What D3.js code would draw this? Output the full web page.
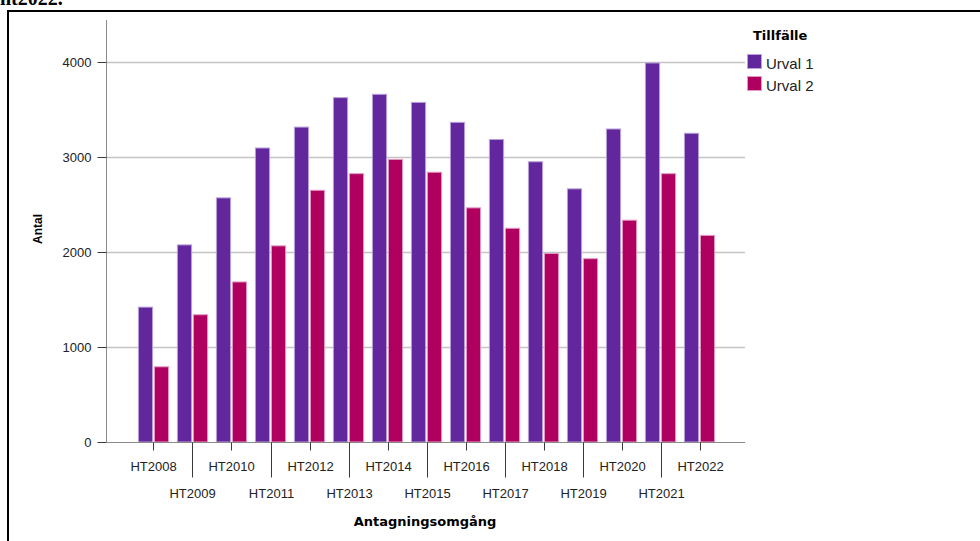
<!DOCTYPE html>
<html>
<head>
<meta charset="utf-8">
<script src="https://cdn.jsdelivr.net/npm/d3@7"></script>
<style>
  html, body { margin: 0; padding: 0; background: #fff; }
  svg { display: block; }
</style>
</head>
<body>
<svg id="chart" width="980" height="541"></svg>
<script>
// Antagningsomgångar (hösttermin) och antal per urval
const categories = ["HT2008","HT2009","HT2010","HT2011","HT2012","HT2013","HT2014","HT2015",
                    "HT2016","HT2017","HT2018","HT2019","HT2020","HT2021","HT2022"];
const seriesNames = ["Urval 1", "Urval 2"];
const urval1 = [1425, 2080, 2575, 3100, 3320, 3630, 3665, 3580, 3370, 3190, 2955, 2670, 3300, 3995, 3255];
const urval2 = [797, 1345, 1690, 2070, 2655, 2830, 2980, 2845, 2470, 2255, 1990, 1935, 2340, 2830, 2180];
const yTicks = [0, 1000, 2000, 3000, 4000];

const colors = { "Urval 1": "#62269d", "Urval 2": "#b0005f" };
const strokes = { "Urval 1": "#b9a2d9", "Urval 2": "#e39cc3" };

const svg = d3.select("#chart");

// heading text partly above the frame
svg.append("text")
  .attr("x", 0).attr("y", 5)
  .attr("font-family", "Liberation Serif, serif")
  .attr("font-weight", "bold")
  .attr("font-size", 20)
  .text("ht2022.");

// outer frame
svg.append("rect")
  .attr("x", 8).attr("y", 11)
  .attr("width", 990).attr("height", 560)
  .attr("fill", "none").attr("stroke", "#000").attr("stroke-width", 2);

const plot = { left: 106, right: 745, top: 20, bottom: 442 };

const y = d3.scaleLinear().domain([0, 4442]).range([plot.bottom, plot.top]);
const x0 = d3.scaleBand().domain(categories).range([134, 719]).paddingInner(0.2).paddingOuter(0.1);
const x1 = d3.scaleBand().domain(seriesNames).range([0, x0.bandwidth()]).paddingInner(0.05);

// gridlines
svg.append("g")
  .selectAll("line")
  .data(yTicks.filter(d => d > 0))
  .join("line")
  .attr("x1", plot.left).attr("x2", plot.right)
  .attr("y1", d => Math.round(y(d)) + 0.5).attr("y2", d => Math.round(y(d)) + 0.5)
  .attr("stroke", "#c4c4c4").attr("stroke-width", 1.5);

// bars
const rows = categories.map((c, i) => ({ cat: c, vals: [
  { name: "Urval 1", v: urval1[i] },
  { name: "Urval 2", v: urval2[i] }
]}));

svg.append("g")
  .selectAll("g")
  .data(rows)
  .join("g")
  .attr("transform", d => `translate(${x0(d.cat)},0)`)
  .selectAll("rect")
  .data(d => d.vals)
  .join("rect")
  .attr("x", d => x1(d.name) + 0.5)
  .attr("width", x1.bandwidth() - 1)
  .attr("y", d => y(d.v) + 0.5)
  .attr("height", d => plot.bottom - y(d.v) - 0.5)
  .attr("fill", d => colors[d.name])
  .attr("stroke", d => strokes[d.name])
  .attr("stroke-width", 1);

// y axis
const yAxis = d3.axisLeft(y).tickValues(yTicks).tickSize(9).tickPadding(6).tickFormat(d3.format("d"));
const gy = svg.append("g").attr("transform", `translate(${plot.left + 0.5},0)`).call(yAxis);
gy.select(".domain").attr("stroke", "#8a8a8a").attr("d", `M0,${plot.top}V${plot.bottom}`);
gy.selectAll(".tick line").attr("stroke", "#3a3a3a");
gy.selectAll(".tick text")
  .attr("font-family", "Liberation Sans, Arial, sans-serif")
  .attr("font-size", 13).attr("fill", "#222");

// x axis with alternating short/long ticks
const gx = svg.append("g").attr("transform", `translate(0,${plot.bottom + 0.5})`);
gx.append("line")
  .attr("x1", plot.left).attr("x2", plot.right)
  .attr("y1", 0).attr("y2", 0)
  .attr("stroke", "#8a8a8a");
const xt = gx.selectAll("g.tick")
  .data(categories)
  .join("g")
  .attr("class", "tick")
  .attr("transform", d => `translate(${Math.round(x0(d) + x0.bandwidth() / 2) + 0.5},0)`);
xt.append("line")
  .attr("y1", 0)
  .attr("y2", (d, i) => i % 2 === 0 ? 8 : 35)
  .attr("stroke", "#3a3a3a");
xt.append("text")
  .attr("text-anchor", "middle")
  .attr("y", (d, i) => i % 2 === 0 ? 28 : 55)
  .attr("font-family", "Liberation Sans, Arial, sans-serif")
  .attr("font-size", 13).attr("fill", "#222")
  .text(d => d);

// axis titles
svg.append("text")
  .attr("x", 425).attr("y", 526)
  .attr("text-anchor", "middle")
  .attr("font-family", "DejaVu Sans, sans-serif")
  .attr("font-weight", "bold").attr("font-size", 13)
  .text("Antagningsomgång");

svg.append("text")
  .attr("transform", "translate(42,229) rotate(-90)")
  .attr("text-anchor", "middle")
  .attr("font-family", "Liberation Sans, Arial, sans-serif")
  .attr("font-weight", "bold").attr("font-size", 12)
  .text("Antal");

// legend
const legend = svg.append("g");
legend.append("text")
  .attr("x", 753).attr("y", 40)
  .attr("font-family", "DejaVu Sans, sans-serif")
  .attr("font-weight", "bold").attr("font-size", 13)
  .text("Tillfälle");
const li = legend.selectAll("g.item")
  .data(seriesNames)
  .join("g")
  .attr("class", "item")
  .attr("transform", (d, i) => `translate(747,${54 + i * 22})`);
li.append("rect")
  .attr("x", 0.5).attr("y", 0.5)
  .attr("width", 14).attr("height", 14)
  .attr("fill", d => colors[d])
  .attr("stroke", d => strokes[d]);
li.append("text")
  .attr("x", 19).attr("y", 15)
  .attr("font-family", "Liberation Sans, Arial, sans-serif")
  .attr("font-size", 15).attr("fill", "#222")
  .text(d => d);
</script>
</body>
</html>
